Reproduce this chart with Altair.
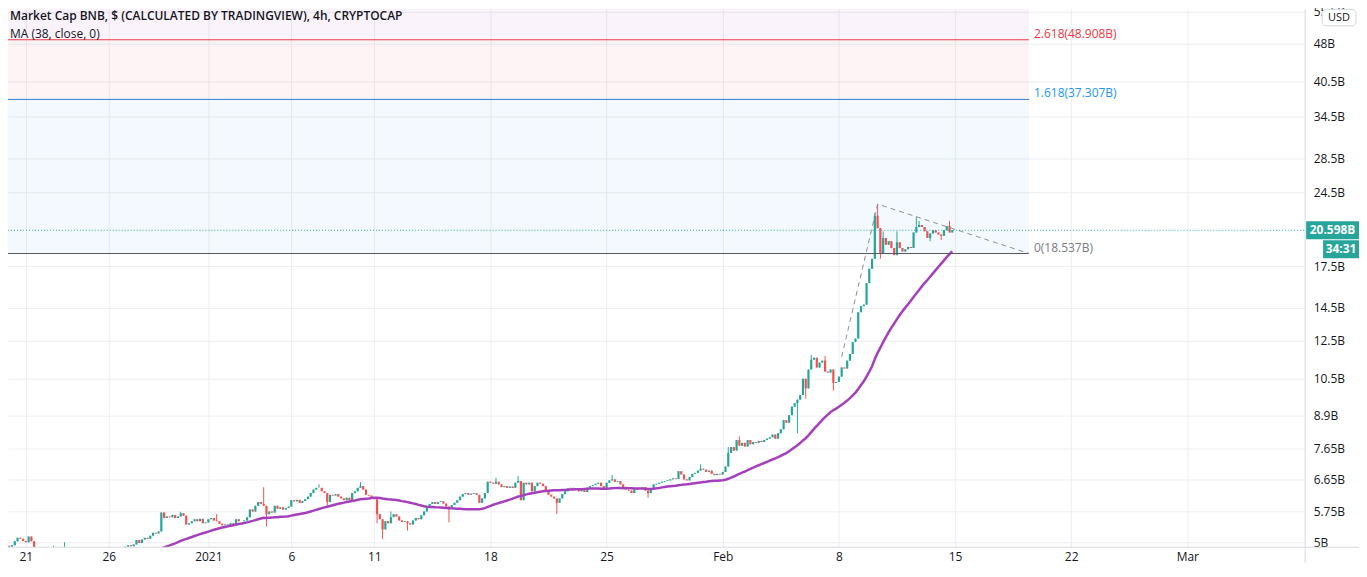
import altair as alt
import pandas as pd

# ---------------- data (values in billions USD) ----------------
start_time = "2020-12-20T00:00:00"   # first 4h candle, UTC
first_open = 4.92
closes = [
    4.90, 4.93, 5.02, 5.10, 5.08, 5.03,   # Dec 20
    5.00, 5.13, 5.02, 4.85, 4.75, 4.72,   # Dec 21
    4.70, 4.68, 4.72, 4.75, 4.80, 4.78,   # Dec 22
    4.76, 4.80, 4.82, 4.75, 4.70, 4.65,   # Dec 23
    4.62, 4.65, 4.60, 4.63, 4.68, 4.66,   # Dec 24
    4.70, 4.72, 4.68, 4.70, 4.74, 4.72,   # Dec 25
    4.75, 4.78, 4.76, 4.80, 4.82, 4.85,   # Dec 26
    4.90, 4.93, 4.91, 4.95, 5.05, 4.98,   # Dec 27
    5.06, 5.10, 5.08, 5.15, 5.22, 5.20,   # Dec 28
    5.25, 5.72, 5.58, 5.62, 5.60, 5.66,   # Dec 29
    5.58, 5.62, 5.70, 5.64, 5.42, 5.45,   # Dec 30
    5.50, 5.55, 5.50, 5.56, 5.45, 5.47,   # Dec 31
    5.55, 5.58, 5.52, 5.50, 5.44, 5.40,   # Jan 1
    5.42, 5.38, 5.45, 5.40, 5.55, 5.50,   # Jan 2
    5.50, 5.52, 5.60, 5.80, 5.75, 5.90,   # Jan 3
    6.00, 5.95, 5.90, 5.68, 5.75, 5.72,   # Jan 4
    5.90, 5.82, 5.86, 5.80, 5.84, 5.88,   # Jan 5
    6.05, 6.02, 6.06, 5.98, 6.03, 6.08,   # Jan 6
    6.15, 6.25, 6.35, 6.40, 6.40, 6.30,   # Jan 7
    6.25, 6.00, 6.20, 6.18, 6.22, 6.15,   # Jan 8
    6.10, 6.05, 6.12, 6.05, 6.25, 6.30,   # Jan 9
    6.40, 6.45, 6.35, 6.20, 6.18, 6.12,   # Jan 10
    6.08, 5.68, 5.55, 5.30, 5.50, 5.45,   # Jan 11
    5.60, 5.68, 5.62, 5.52, 5.48, 5.50,   # Jan 12
    5.45, 5.42, 5.52, 5.58, 5.55, 5.65,   # Jan 13
    5.75, 5.85, 5.95, 6.00, 5.95, 6.00,   # Jan 14
    6.02, 5.96, 5.88, 5.85, 5.92, 5.98,   # Jan 15
    6.05, 6.15, 6.22, 6.25, 6.20, 6.23,   # Jan 16
    6.25, 6.20, 5.98, 6.10, 6.25, 6.58,   # Jan 17
    6.55, 6.52, 6.58, 6.50, 6.42, 6.45,   # Jan 18
    6.40, 6.44, 6.40, 6.55, 6.60, 6.05,   # Jan 19
    6.55, 6.50, 6.55, 6.30, 6.45, 6.55,   # Jan 20
    6.52, 6.45, 6.30, 6.20, 6.15, 6.10,   # Jan 21
    5.98, 6.10, 6.22, 6.30, 6.38, 6.40,   # Jan 22
    6.35, 6.38, 6.30, 6.33, 6.28, 6.40,   # Jan 23
    6.45, 6.48, 6.52, 6.55, 6.45, 6.40,   # Jan 24
    6.55, 6.62, 6.65, 6.58, 6.60, 6.50,   # Jan 25
    6.38, 6.35, 6.32, 6.25, 6.35, 6.40,   # Jan 26
    6.38, 6.42, 6.32, 6.25, 6.35, 6.50,   # Jan 27
    6.52, 6.55, 6.58, 6.60, 6.62, 6.65,   # Jan 28
    6.68, 6.66, 6.90, 6.80, 6.65, 6.62,   # Jan 29
    6.72, 6.82, 6.85, 6.92, 6.98, 6.95,   # Jan 30
    6.88, 6.92, 6.82, 6.78, 6.82, 6.80,   # Jan 31
    6.88, 7.05, 7.50, 7.70, 7.58, 7.95,   # Feb 1
    7.75, 7.85, 7.72, 7.95, 7.80, 7.88,   # Feb 2
    7.85, 7.92, 7.88, 7.95, 8.00, 8.05,   # Feb 3
    8.15, 8.00, 8.20, 8.35, 8.70, 8.60,   # Feb 4
    8.90, 9.25, 9.40, 9.55, 9.75, 10.50,  # Feb 5
    10.05, 10.95, 11.45, 11.55, 11.05, 11.30,  # Feb 6
    11.40, 10.85, 10.80, 10.95, 10.30, 10.35,  # Feb 7
    10.60, 11.05, 11.00, 11.40, 11.75, 12.40,  # Feb 8
    12.60, 14.20, 14.60, 14.70, 16.20, 17.30,  # Feb 9
    18.10, 22.00, 20.80, 18.50, 19.90, 19.30,  # Feb 10
    19.60, 19.00, 18.40, 19.50, 19.00, 18.70,  # Feb 11
    18.90, 19.10, 19.00, 20.40, 20.90, 21.10,  # Feb 12
    20.90, 20.50, 19.90, 20.30, 20.60, 20.40,  # Feb 13
    20.20, 20.10, 20.60, 21.00, 20.40, 20.598, # Feb 14
]
# notable wicks (candle index -> price); other candles drawn body-only
wick_high = {16: 4.92, 20: 5.00, 62: 5.74, 75: 5.68, 92: 6.42, 112: 6.50,
             127: 6.57, 138: 5.75, 176: 6.70, 184: 6.75, 218: 6.78, 250: 7.12,
             260: 7.70, 264: 8.08, 290: 11.70, 295: 11.65, 313: 22.30,
             314: 23.20, 316: 20.50, 321: 20.50, 328: 21.90, 329: 21.50,
             340: 21.50}
wick_low = {93: 5.37, 115: 5.90, 133: 5.45, 135: 5.07, 144: 5.27, 159: 5.47,
            198: 5.68, 231: 6.12, 285: 8.20, 288: 9.60, 298: 9.95, 315: 18.10,
            333: 19.60, 337: 19.70}

ma_length = 38
last_price = 20.598
last_price_label = "20.598B"
countdown = "34:31"

fib_prices = [18.537, 37.307, 48.908, 60.508]
fib_labels = ["0(18.537B)", "1.618(37.307B)", "2.618(48.908B)"]
fib_line_colors = ["#555862", "#2f80d8", "#f23645"]
fib_text_colors = ["#787b86", "#2196f3", "#f23645"]
fib_fill_colors = ["#2196f3", "#f23645", "#9c27b0"]
trend_times = ["2021-02-08T04:00:00", "2021-02-10T08:00:00", "2021-02-19T11:00:00"]
trend_prices = [11.60, 23.20, 18.537]

y_ticks = [5, 5.75, 6.65, 7.65, 8.9, 10.5, 12.5, 14.5, 17.5, 24.5, 28.5, 34.5, 40.5, 48, 55.5]
x_ticks = ["2020-12-21", "2020-12-26", "2021-01-01", "2021-01-06", "2021-01-11",
           "2021-01-18", "2021-01-25", "2021-02-01", "2021-02-08", "2021-02-15",
           "2021-02-22", "2021-03-01"]
x_domain = ["2020-12-20T05:24:00", "2021-03-07T19:12:00"]
y_domain = [4.888, 56.28]

title_line1 = "Market Cap BNB, $ (CALCULATED BY TRADINGVIEW), 4h, CRYPTOCAP"
title_line2 = "MA (38, close, 0)"

# ---------------- build tables ----------------
def ms(s):
    return int(pd.Timestamp(s, tz="UTC").value // 1_000_000)

t0 = pd.Timestamp(start_time, tz="UTC")
n = len(closes)
times = [int((t0 + pd.Timedelta(hours=4 * i)).value // 1_000_000) for i in range(n)]
opens = [first_open] + closes[:-1]
highs = [max(o, c) for o, c in zip(opens, closes)]
lows = [min(o, c) for o, c in zip(opens, closes)]
for k, v in wick_high.items():
    highs[k] = max(highs[k], v)
for k, v in wick_low.items():
    lows[k] = min(lows[k], v)
candles = pd.DataFrame({
    "idx": list(range(n)), "t": times, "o": opens, "c": closes, "h": highs, "l": lows,
    "dir": ["up" if c >= o else "down" for o, c in zip(opens, closes)],
})

xd = [ms(x_domain[0]), ms(x_domain[1])]
p3 = ms(trend_times[2])
left_t = xd[0] - 86400000
trend = pd.DataFrame({"t": [ms(s) for s in trend_times], "p": trend_prices, "k": [0, 1, 2]})
one = pd.DataFrame({"p": [last_price]})

# ---------------- scales / axes ----------------
W, H = 1301, 540
PAD_R, PAD_B = 54, 16
TEAL, RED, PURPLE = "#26a69a", "#ef5350", "#a53fbb"
FONT = "Open Sans"
xs = alt.Scale(type="utc", domain=xd)
ys = alt.Scale(type="log", domain=y_domain, nice=False)
x_axis = alt.Axis(
    values=[ms(s) for s in x_ticks], title=None, grid=True, gridColor="#eceef2",
    ticks=False, domain=False, labelPadding=4, labelFlush=False, labelOverlap=False,
    labelFontSize=12, labelColor="#131722", labelFont=FONT,
    labelExpr="utcdate(datum.value) == 1 ? (utcmonth(datum.value) == 0 ? "
              "utcFormat(datum.value, '%Y') : utcFormat(datum.value, '%b')) : "
              "utcFormat(datum.value, '%-d')",
)
y_axis = alt.Axis(
    orient="right", values=y_ticks, title=None, grid=True, gridColor="#eceef2",
    ticks=False, domain=False, labelPadding=8, labelOverlap=False,
    labelFontSize=12, labelColor="#131722", labelFont=FONT,
    labelExpr="datum.value + 'B'",
)


def X(field):
    return alt.X(field, scale=xs, axis=x_axis)


def Y(field):
    return alt.Y(field, scale=ys, axis=y_axis)


color_dir = alt.Color("dir:N", scale=alt.Scale(domain=["up", "down"], range=[TEAL, RED]),
                      legend=None)

# ---------------- layers ----------------
zone_layers, level_layers = [], []
for k in range(3):
    zone = pd.DataFrame({"t": [left_t], "t2": [p3], "lo": [fib_prices[k]], "hi": [fib_prices[k + 1]]})
    zone_layers.append(
        alt.Chart(zone).mark_rect(opacity=0.055, clip=True, color=fib_fill_colors[k]).encode(
            x=X("t:T"), x2="t2:T", y=Y("lo:Q"), y2="hi:Q"))
for k in range(3):
    lvl = pd.DataFrame({"t": [left_t], "t2": [p3], "price": [fib_prices[k]], "label": [fib_labels[k]]})
    level_layers.append(
        alt.Chart(lvl).mark_rule(strokeWidth=1, clip=True, stroke=fib_line_colors[k],
                                 opacity=1).encode(
            x=X("t:T"), x2="t2:T", y=Y("price:Q")))
    level_layers.append(
        alt.Chart(lvl).mark_text(align="left", baseline="alphabetic", dx=5, dy=-2,
                                 fontSize=12, font=FONT, fill=fib_text_colors[k]).encode(
            x=X("t2:T"), y=Y("price:Q"), text="label:N"))

wicks = alt.Chart(candles).mark_rule(strokeWidth=1, clip=True).encode(
    x=X("t:T"), y=Y("l:Q"), y2="h:Q", color=color_dir,
)
bodies = alt.Chart(candles).mark_bar(size=2.2, clip=True).encode(
    x=X("t:T"), y=Y("o:Q"), y2="c:Q", color=color_dir,
)
ma_line = alt.Chart(candles).transform_window(
    ma="mean(c)", frame=[-(ma_length - 1), 0], sort=[alt.SortField("t")]
).transform_filter(f"datum.idx >= {ma_length - 1}").mark_line(
    color=PURPLE, strokeWidth=2.5, clip=True
).encode(x=X("t:T"), y=Y("ma:Q"))
trend_line = alt.Chart(trend).mark_line(
    color="#8c8f98", strokeWidth=1, strokeDash=[5, 4], clip=True
).encode(x=X("t:T"), y=Y("p:Q"), order="k:Q")
price_line = alt.Chart(one).mark_rule(color=TEAL, strokeWidth=1, strokeDash=[1, 2]).encode(
    x=alt.value(0), x2=alt.value(W), y=Y("p:Q"),
)
price_box = alt.Chart(one).mark_point(
    shape=f"M0,-9H{PAD_R - 1}V9H0Z", size=4, filled=True, opacity=1, color=TEAL
).encode(x=alt.value(W + 1), y=Y("p:Q"))
count_box = alt.Chart(one).mark_point(
    shape=f"M17,10H{PAD_R - 1}V28H17Z", size=4, filled=True, opacity=1, color=TEAL
).encode(x=alt.value(W + 1), y=Y("p:Q"))
price_text = alt.Chart(one).mark_text(
    align="center", baseline="middle", fontSize=12, fontWeight="bold", color="white", font=FONT
).encode(x=alt.value(W + 1 + (PAD_R - 1) / 2), y=Y("p:Q"), text=alt.value(last_price_label))
count_text = alt.Chart(one).mark_text(
    align="center", baseline="middle", dy=19, fontSize=12, fontWeight="bold", color="white", font=FONT
).encode(x=alt.value(W + 1 + (17 + PAD_R - 1) / 2), y=Y("p:Q"), text=alt.value(countdown))

bottom_sep = alt.Chart(one).mark_rule(color="#d6d9e0", strokeWidth=1).encode(
    x=alt.value(0), x2=alt.value(W + PAD_R), y=alt.value(H))
right_sep = alt.Chart(one).mark_rule(color="#d6d9e0", strokeWidth=1).encode(
    x=alt.value(W), y=alt.value(0), y2=alt.value(H + PAD_B))
usd_box = alt.Chart(one).mark_rect(
    cornerRadius=4, fill="white", stroke="#d1d4dc", strokeWidth=1
).encode(x=alt.value(W + 17), x2=alt.value(W + 51), y=alt.value(0.5), y2=alt.value(17))
usd_text = alt.Chart(one).mark_text(
    align="center", baseline="middle", fontSize=11, color="#131722", font=FONT
).encode(x=alt.value(W + 34), y=alt.value(9), text=alt.value("USD"))

title1 = alt.Chart(one).mark_text(
    align="left", baseline="middle", fontSize=12, fontWeight=600, color="#131722", font=FONT
).encode(x=alt.value(2), y=alt.value(7), text=alt.value(title_line1))
title2 = alt.Chart(one).mark_text(
    align="left", baseline="middle", fontSize=12, color="#131722", font=FONT
).encode(x=alt.value(2), y=alt.value(25), text=alt.value(title_line2))

chart = alt.layer(
    *zone_layers, wicks, bodies, ma_line, *level_layers, trend_line, price_line,
    bottom_sep, right_sep, price_box, count_box, price_text, count_text,
    usd_box, usd_text, title1, title2,
).properties(
    width=W, height=H,
    autosize=alt.AutoSizeParams(type="none"),
    padding={"left": 0, "top": 0, "right": PAD_R, "bottom": PAD_B},
    background="white",
).configure_view(stroke=None)

chart.save("out.html", embed_options={"renderer": "svg", "actions": False})
